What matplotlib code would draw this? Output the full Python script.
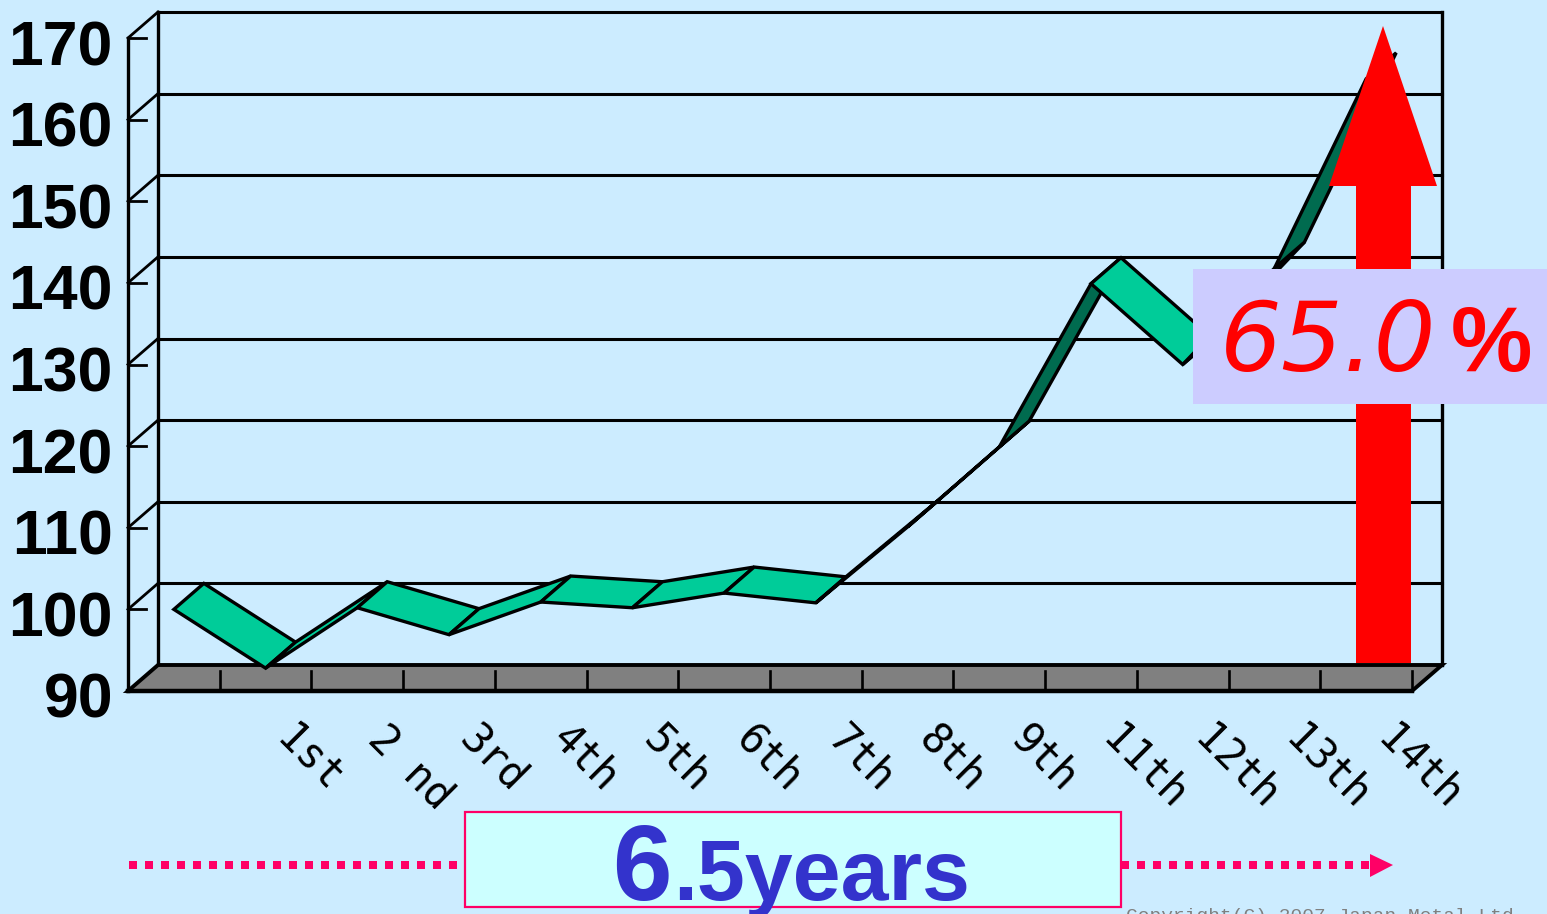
import matplotlib
matplotlib.use("Agg")
import matplotlib.pyplot as plt
from matplotlib.patches import Polygon, Rectangle

# Annual index by delivery round; the first position has no round label.
categories = ["", "1st", "2 nd", "3rd", "4th", "5th", "6th", "7th", "8th", "9th",
              "11th", "12th", "13th", "14th"]
index_values = [100.0, 92.8, 100.2, 96.9, 100.9, 100.2, 102.0, 100.8,
                110.1, 119.9, 139.9, 130.0, 141.8, 165.0]
y_ticks = [90, 100, 110, 120, 130, 140, 150, 160, 170]

growth_label = "65.0"
period_major = "6"
period_minor = ".5years"
copyright_text = "Copyright(C) 2007 Japan Metal Ltd."

W, H = 1547, 914
DPI = 100
BG = "#CCECFF"
RIBBON_LIGHT = "#00CC99"
RIBBON_DARK = "#006B4F"
PINK = "#FF0066"
BLUE = "#3333CC"
RED = "#FF0000"

fig = plt.figure(figsize=(W / DPI, H / DPI), dpi=DPI, facecolor=BG)

# Front plane of the pseudo-3D box: categories along x, index along y.
LEFT, RIGHT, TOP, BOTTOM = 128, 1412, 38, 691
ax = fig.add_axes([LEFT / W, 1 - BOTTOM / H, (RIGHT - LEFT) / W, (BOTTOM - TOP) / H])
ax.set_xlim(-0.5, len(categories) - 0.5)
ax.set_ylim(y_ticks[0], y_ticks[-1])
ax.axis("off")

# Depth of the box, expressed in data units (30 px across, 26 px up).
DX = 30 / ((RIGHT - LEFT) / len(categories))
DY = 26 / ((BOTTOM - TOP) / (y_ticks[-1] - y_ticks[0]))
x0, x1 = ax.get_xlim()
ymin, ymax = ax.get_ylim()
LW = 2.4


def seg(xs, ys, lw=LW, z=2, color="black"):
    ax.plot(xs, ys, color=color, lw=lw, zorder=z, clip_on=False,
            solid_capstyle="projecting", solid_joinstyle="miter")


# Back wall and gridlines.
for v in y_ticks:
    seg([x0 + DX, x1 + DX], [v + DY, v + DY], lw=2.2, z=1)
    if v > y_ticks[0]:
        seg([x0, x0 + DX], [v, v + DY], lw=2.0, z=1)
        seg([x0, x0 + 0.2], [v, v], lw=2.0, z=1)
seg([x0, x0], [ymin, ymax], z=1)
seg([x0 + DX, x0 + DX], [ymin + DY, ymax + DY], z=1)
seg([x1 + DX, x1 + DX], [ymin + DY, ymax + DY], z=1)

# Floor with tick marks on the slot boundaries.
ax.add_patch(Polygon([(x0, ymin), (x1, ymin), (x1 + DX, ymin + DY), (x0 + DX, ymin + DY)],
                     closed=True, fc="#808080", ec="black", lw=2.8, zorder=2,
                     clip_on=False, joinstyle="miter"))
seg([x0, x1], [ymin, ymin], lw=3.2, z=3)
for i in range(1, len(categories) + 1):
    seg([x0 + i, x0 + i], [ymin, ymin + 2.5], lw=1.9, z=3)

# Ribbon: one face per segment, shaded by whether its underside faces the viewer.
positions = list(range(len(categories)))
for i in range(len(index_values) - 1):
    xa, xb = positions[i], positions[i + 1]
    ya, yb = index_values[i], index_values[i + 1]
    slope = (yb - ya) / (xb - xa)
    underside = slope > DY / DX * 1.03
    ax.add_patch(Polygon([(xa, ya), (xb, yb), (xb + DX, yb + DY), (xa + DX, ya + DY)],
                         closed=True, fc=RIBBON_DARK if underside else RIBBON_LIGHT,
                         ec="black", lw=LW, zorder=4 + i * 0.01, clip_on=False,
                         joinstyle="miter"))

# Axis labels.
for v in y_ticks:
    ax.annotate(str(v), xy=(x0, v), xytext=(-15, -27), textcoords="offset pixels",
                ha="right", va="baseline", fontsize=45, fontweight="bold",
                family="Liberation Sans", color="black", annotation_clip=False)
for pos, name in zip(positions, categories):
    if name:
        ax.annotate(name, xy=(pos, ymin), xytext=(9, -50), textcoords="offset pixels",
                    ha="left", va="baseline", rotation=-45, rotation_mode="anchor",
                    fontsize=30, family="DejaVu Sans Mono", color="black",
                    annotation_clip=False)

# Overlay in pixel coordinates for the annotation shapes.
ov = fig.add_axes([0, 0, 1, 1], zorder=5)
ov.set_xlim(0, W)
ov.set_ylim(H, 0)
ov.axis("off")

# Growth arrow and its label.
ov.add_patch(Polygon([(1383, 26), (1437, 186), (1411, 186), (1411, 663), (1356, 663),
                      (1356, 186), (1329, 186)], closed=True, fc=RED, ec="none", zorder=2))
ov.add_patch(Rectangle((1193, 269), W - 1193, 135, fc="#CCCCFF", ec="none", zorder=3))
ov.text(1220, 371, growth_label, fontsize=70, style="italic", family="DejaVu Sans",
        color=RED, ha="left", va="baseline", zorder=4)
ov.text(1532, 371, "%", fontsize=66, fontweight="bold", family="Liberation Sans",
        color=RED, ha="right", va="baseline", zorder=4)

# Period banner with the dotted timeline running through it.
dot_lw = 8 * 72 / DPI
for xs in ([129, 458], [1121, 1372]):
    ov.plot(xs, [865, 865], color=PINK, lw=dot_lw, linestyle=(0, (1, 1)),
            dash_capstyle="butt", zorder=2)
ov.add_patch(Polygon([(1370, 854), (1393, 865), (1370, 877)], closed=True, fc=PINK,
                     ec="none", zorder=2))
ov.add_patch(Rectangle((465, 812), 656, 95, fc="#CCFFFF", ec=PINK, lw=1.6, zorder=3))
ov.text(612, 900, period_major, fontsize=77, fontweight="bold", family="Liberation Sans",
        color=BLUE, ha="left", va="baseline", zorder=4)
ov.text(673, 900, period_minor, fontsize=62, fontweight="bold", family="Liberation Sans",
        color=BLUE, ha="left", va="baseline", zorder=4)

ov.text(1126, 921, copyright_text, fontsize=14, family="Liberation Mono",
        color="#808080", ha="left", va="baseline", zorder=1, clip_on=False)

fig.savefig("out.png", dpi=DPI, facecolor=BG)
